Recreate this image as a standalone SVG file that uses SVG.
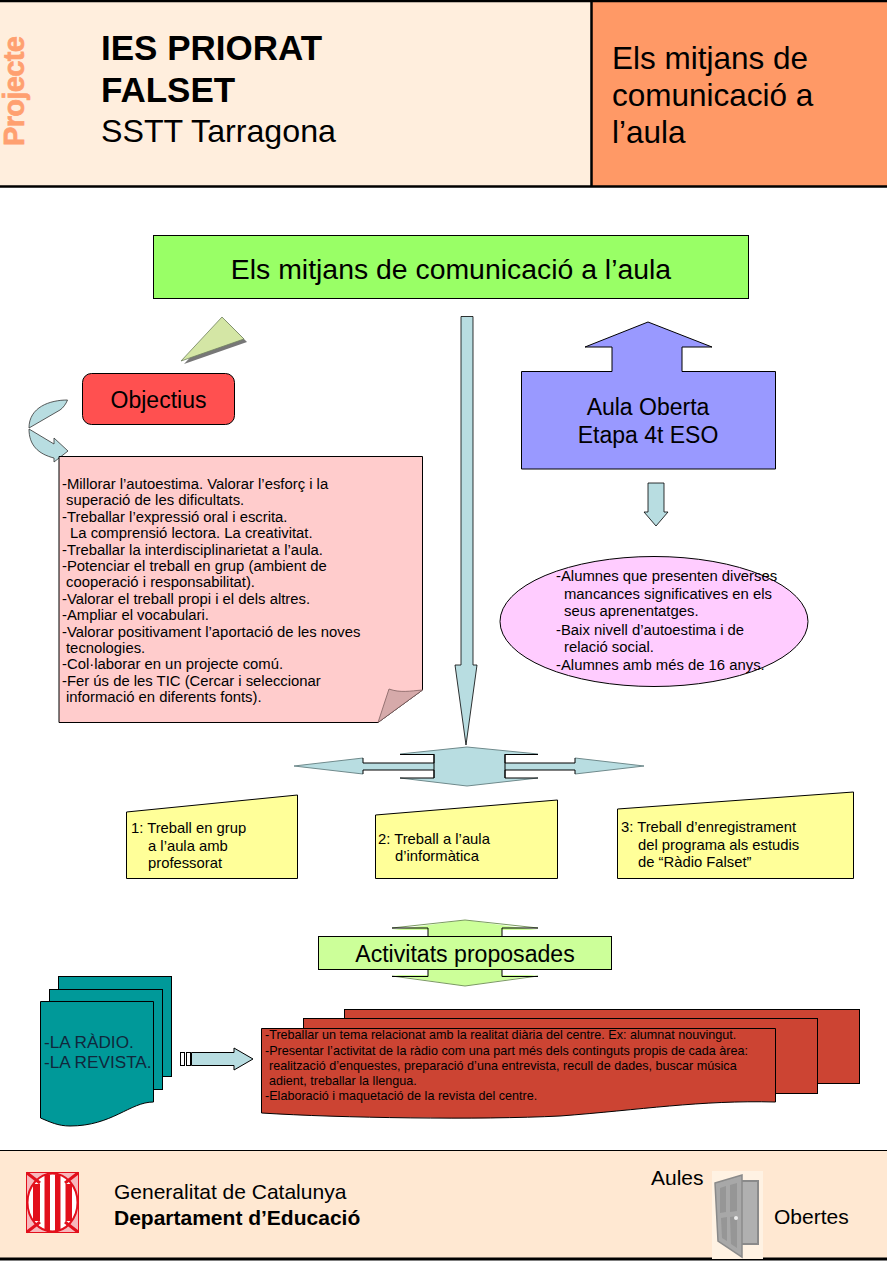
<svg xmlns="http://www.w3.org/2000/svg" width="887" height="1261" viewBox="0 0 887 1261">
<defs><style>
text{font-family:"Liberation Sans",Arial,sans-serif;fill:#000}
.k{stroke:#000;stroke-width:1}
.a{fill:#b8dde1}
.g{stroke:#6f8a8c;stroke-width:1;fill:none}
.s{font-size:14.85px}
.y{font-size:14.8px}
.r{font-size:12.6px}
.f{font-size:21px}
.t{fill:#ffff99;stroke:#000;stroke-width:1}
.red{fill:#cc4433;stroke:#000;stroke-width:1}
.teal{fill:#009999;stroke:#000;stroke-width:1}
</style></defs>
<rect width="887" height="1261" fill="#fff"/>
<g id="header">
<rect x="0" y="1" width="591" height="185" fill="#ffeedd"/>
<rect x="591" y="1" width="296" height="185" fill="#ff9966"/>
<path d="M0 1H887M0 186.500H887M591.500 1V186" stroke="#000" stroke-width="2.500" fill="none"/>
<text transform="translate(24 146) rotate(-90)" font-size="29" font-weight="700" style="fill:#ffa070;stroke:#ffa070;stroke-width:.7" textLength="110">Projecte</text>
<text x="101" y="60" font-size="35" font-weight="700">IES PRIORAT</text>
<text x="101" y="102" font-size="35" font-weight="700">FALSET</text>
<text x="101" y="142" font-size="32.200">SSTT Tarragona</text>
<text x="612" y="69" font-size="31.500">Els mitjans de</text>
<text x="612" y="106" font-size="31.500">comunicació a</text>
<text x="612" y="143" font-size="31.500">l’aula</text>
</g>
<g id="title">
<rect x="153.500" y="235.500" width="595" height="63" fill="#99ff66" class="k"/>
<text x="451" y="279" font-size="28.400" text-anchor="middle">Els mitjans de comunicació a l’aula</text>
</g>
<g id="connectors">
<path d="M184 364L225 320L247 342Z" fill="#777"/>
<path d="M181 361L222 317L244 339Z" fill="#d4e6a5" stroke="#708060" stroke-width=".8"/>
<path d="M67.500 400C50 400 29 407 29 428L60 410C63 408 66 404 67.500 400Z" class="a" stroke="#333" stroke-width=".8"/>
<path d="M29 429L54 444V438L68 451L54 462V458C38 454 29 445 29 429Z" class="a" stroke="#333" stroke-width=".8"/>
<path d="M461 316.500H473V665L477 665L466 745L455 665L461 665Z" class="a" stroke="#000" stroke-width=".8"/>
<path d="M294 766L363 758V763H434V754L400 754L467 747L538 754H505V763H575V758L644 766L575 774V770H505V778H538L467 786L400 778H434V770H363V774Z" class="a"/>
<path d="M294 766L363 758M363 774L294 766M644 766L575 758M575 774L644 766M400 754L467 747L538 754M400 778L467 786L538 778" class="g"/>
<path d="M400 754.500H434V763H363M363 770H434V778H400M538 754.500H505V763H575M575 770H505V778H538M363 758V763M363 770V774M434 754V778M505 754V778M575 758V763M575 770V774" stroke="#000" fill="none"/>
<path d="M648 483H664V512H668L656 526L644 512H648Z" class="a" stroke="#000" stroke-width=".8"/>
<path d="M392 930L465 920L538 930H502V937H428V930Z" fill="#ccff99"/>
<path d="M392 975L465 986L538 975H502V969H428V975Z" fill="#ccff99"/>
<path d="M392 928L465 920L538 928M392 976L465 986L538 976" stroke="#7a9a60" fill="none"/>
<path d="M392 928H428V937M538 928H502V937M392 976.500H428V969M538 976.500H502V969" stroke="#000" fill="none"/>
<rect x="180.500" y="1052.500" width="4" height="13" fill="#fff" class="k"/>
<rect x="186.500" y="1052.500" width="4" height="13" fill="#fff" class="k"/>
<path d="M191.500 1052.500H234V1048L253 1059L234 1070V1065.500H191.500Z" class="a k"/>
</g>
<g id="objectius">
<rect x="82.500" y="373.500" width="152" height="51" rx="9" fill="#ff5050" class="k"/>
<text x="158.500" y="408" font-size="23" text-anchor="middle">Objectius</text>
</g>
<g id="objectius-text">
<path d="M59 456.500H422.500V690L378 722.500H59Z" fill="#ffcccc" class="k"/>
<path d="M378 722.500L389 689C400 693 410 691 422.500 690Z" fill="#d6aaaa" stroke="#806060" stroke-width=".8"/>
<text class="s">
<tspan x="62" y="489">-Millorar l’autoestima. Valorar l’esforç i la</tspan>
<tspan x="66" y="505">superació de les dificultats.</tspan>
<tspan x="62" y="522">-Treballar l’expressió oral i escrita.</tspan>
<tspan x="70" y="538">La comprensió lectora. La creativitat.</tspan>
<tspan x="62" y="555">-Treballar la interdisciplinarietat a l’aula.</tspan>
<tspan x="62" y="571">-Potenciar el treball en grup (ambient de</tspan>
<tspan x="66" y="587">cooperació i responsabilitat).</tspan>
<tspan x="62" y="604">-Valorar el treball propi i el dels altres.</tspan>
<tspan x="62" y="620">-Ampliar el vocabulari.</tspan>
<tspan x="62" y="637">-Valorar positivament l’aportació de les noves</tspan>
<tspan x="66" y="653">tecnologies.</tspan>
<tspan x="62" y="669">-Col·laborar en un projecte comú.</tspan>
<tspan x="62" y="686">-Fer ús de les TIC (Cercar i seleccionar</tspan>
<tspan x="66" y="702">informació en diferents fonts).</tspan>
</text>
</g>
<g id="aula-oberta">
<path d="M521.500 371.500H612V347H585L648 322L712 347H682V371.500H775.500V469H521.500Z" fill="#9999ff" class="k"/>
<text x="648" y="415" font-size="23" text-anchor="middle">Aula Oberta</text>
<text x="648" y="443" font-size="23" text-anchor="middle">Etapa 4t ESO</text>
</g>
<g id="alumnes">
<ellipse cx="654" cy="621.500" rx="154" ry="65" fill="#ffccff" class="k"/>
<text class="s">
<tspan x="556" y="581">-Alumnes que presenten diverses</tspan>
<tspan x="564" y="599">mancances significatives en els</tspan>
<tspan x="564" y="616">seus aprenentatges.</tspan>
<tspan x="556" y="635">-Baix nivell d’autoestima i de</tspan>
<tspan x="564" y="652">relació social.</tspan>
<tspan x="556" y="670">-Alumnes amb més de 16 anys.</tspan>
</text>
</g>
<g id="treball-1">
<path d="M126.500 812L297.500 795V878.500H126.500Z" class="t"/>
<text class="y"><tspan x="131" y="833">1: Treball en grup</tspan><tspan x="148" y="851">a l’aula amb</tspan><tspan x="148" y="868">professorat</tspan></text>
</g>
<g id="treball-2">
<path d="M375.500 815L557.500 800V878.500H375.500Z" class="t"/>
<text class="y"><tspan x="378" y="844">2: Treball a l’aula</tspan><tspan x="395" y="861">d’informàtica</tspan></text>
</g>
<g id="treball-3">
<path d="M617.500 809L853.500 792V878.500H617.500Z" class="t"/>
<text class="y"><tspan x="621" y="832">3: Treball d’enregistrament</tspan><tspan x="638" y="850">del programa als estudis</tspan><tspan x="638" y="867">de “Ràdio Falset”</tspan></text>
</g>
<g id="activitats">
<rect x="318.500" y="936.500" width="293" height="33" fill="#ccff99" class="k"/>
<text x="465" y="962" font-size="23.100" text-anchor="middle">Activitats proposades</text>
</g>
<g id="radio-revista">
<rect x="58.500" y="976.500" width="113" height="100" class="teal"/>
<rect x="49.500" y="989.500" width="113" height="100" class="teal"/>
<path d="M40.500 1001.500H153.500V1102C130 1102 112 1126 70 1126C58 1126 50 1122 40.500 1118Z" class="teal"/>
<text font-size="17.200" style="fill:#10283c"><tspan x="44" y="1048">-LA RÀDIO.</tspan><tspan x="44" y="1068">-LA REVISTA.</tspan></text>
</g>
<g id="activitats-text">
<rect x="344.500" y="1009.500" width="515" height="74" class="red"/>
<rect x="303.500" y="1018.500" width="514" height="75" class="red"/>
<path d="M261.500 1028.500H775.500V1102C700 1100 640 1110 560 1116C480 1120 340 1118 261.500 1113Z" class="red"/>
<text class="r">
<tspan x="265" y="1039">-Treballar un tema relacionat amb la realitat diària del centre. Ex: alumnat nouvingut.</tspan>
<tspan x="265" y="1055">-Presentar l’activitat de la ràdio com una part més dels continguts propis de cada àrea:</tspan>
<tspan x="269" y="1070">realització d’enquestes, preparació d’una entrevista, recull de dades, buscar música</tspan>
<tspan x="269" y="1085">adient, treballar la llengua.</tspan>
<tspan x="265" y="1100">-Elaboració i maquetació de la revista del centre.</tspan>
</text>
</g>
<g id="footer">
<rect x="0" y="1150.500" width="887" height="108" fill="#ffe8d2"/>
<path d="M0 1150.500H887" stroke="#000"/><path d="M0 1259H887" stroke="#000" stroke-width="3"/>
<g id="escut">
<rect x="26.500" y="1172.500" width="52" height="60" fill="#f7b9bd" stroke="#e2101c"/>
<ellipse cx="52.500" cy="1202.500" rx="25" ry="29" fill="#fff" stroke="#e2101c" stroke-width="2"/>
<path d="M27 1173L40 1183M78 1173L65 1183M27 1232L40 1222M78 1232L65 1222" stroke="#e2101c" stroke-width="3"/>
<path d="M33 1184H40V1221H33ZM44.500 1174.500H50V1231H44.500ZM55 1174.500H60.500V1231H55ZM65.500 1184H72V1221H65.500Z" fill="#e2101c"/>
</g>
<text class="f" x="114" y="1199">Generalitat de Catalunya</text>
<text class="f" x="114" y="1225" font-weight="700">Departament d’Educació</text>
<text class="f" x="651" y="1185">Aules</text>
<text class="f" x="774" y="1224">Obertes</text>
<g id="porta">
<rect x="712" y="1171" width="51" height="88" fill="#fff2e3"/>
<rect x="741" y="1181" width="17" height="63" fill="#b0b0b0" stroke="#8a8a8a" stroke-width="2"/>
<path d="M715 1183L742 1175V1257L718 1241Z" fill="#a8a8a8" stroke="#8a8a8a" stroke-width="1.500"/>
<path d="M720 1188L726 1186V1212L720 1213ZM730 1185L737 1183V1211L730 1212ZM721 1218L727 1217V1241L722 1238ZM730 1217L737 1216V1248L731 1244Z" fill="#969696"/>
<circle cx="736" cy="1218" r="2" fill="#eee"/>
</g>
</g>
</svg>
